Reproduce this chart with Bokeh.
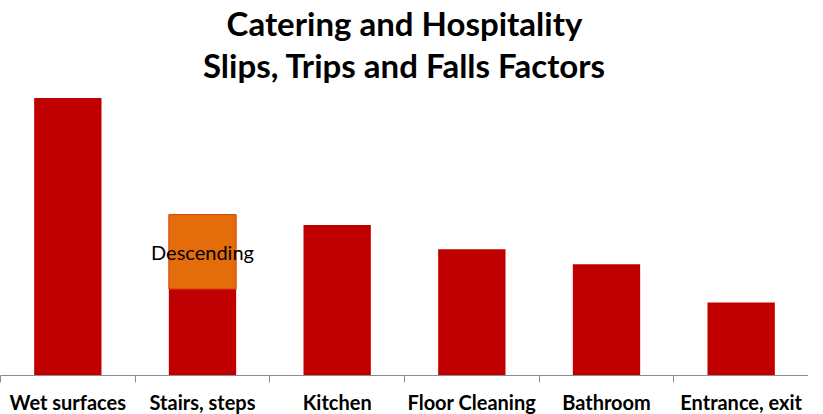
from bokeh.plotting import figure
from bokeh.models import Range1d, FixedTicker, Title, ColumnDataSource, CDSView, BooleanFilter
from bokeh.core.properties import value
from bokeh.embed import file_html
from bokeh.resources import INLINE

categories = ["Wet surfaces", "Stairs, steps", "Kitchen", "Floor Cleaning", "Bathroom", "Entrance, exit"]
base_values = [36.9, 11.5, 20.0, 16.8, 14.8, 9.7]
descending_values = [0, 9.9, 0, 0, 0, 0]
segment_label = "Descending"
title_lines = ["Catering and Hospitality", "Slips, Trips and Falls Factors"]

RED = "#C00000"
ORANGE = "#E46C0A"
FONT = "Lato"

n = len(categories)
centers = [i + 0.5 for i in range(n)]
bounds = [float(i) for i in range(n + 1)]

p = figure(width=808, height=416, output_backend="svg", toolbar_location=None,
           x_range=Range1d(0, n), y_range=Range1d(0, 38.7),
           min_border_left=0, min_border_right=0, min_border_top=0, min_border_bottom=0)
p.title = None
p.outline_line_color = None
p.grid.grid_line_color = None
p.yaxis.visible = False
p.background_fill_color = "white"

src = ColumnDataSource(dict(x=centers, base=base_values,
                            top=[b + d for b, d in zip(base_values, descending_values)],
                            desc=descending_values))
p.vbar(x="x", width=0.5, bottom=0, top="base", source=src, fill_color=RED, line_color=None)
view = CDSView(filter=BooleanFilter([d > 0 for d in descending_values]))
p.vbar(x="x", width=0.5, bottom="base", top="top", source=src, view=view, fill_color=ORANGE,
       line_color="#D8410A", line_width=1)

idx = descending_values.index(max(descending_values))
p.text(x=[centers[idx]], y=[base_values[idx] + descending_values[idx] / 2], text=[segment_label],
       text_align="center", text_baseline="middle", text_font=value(FONT),
       text_font_size="20px", text_color="black")

ax = p.xaxis[0]
ax.ticker = FixedTicker(ticks=centers, minor_ticks=bounds)
ax.major_label_overrides = {c: lab for c, lab in zip(centers, categories)}
ax.major_tick_line_color = None
ax.major_tick_out = 0
ax.major_tick_in = 0
ax.minor_tick_line_color = "#8C8C8C"
ax.minor_tick_out = 7
ax.minor_tick_in = 0
ax.axis_line_color = "#8C8C8C"
ax.axis_line_width = 1
ax.axis_label_standoff = 0
ax.major_label_text_font = FONT
ax.major_label_text_font_style = "bold"
ax.major_label_text_font_size = "20px"
ax.major_label_text_color = "black"
ax.major_label_standoff = 7

for line in reversed(title_lines):
    p.add_layout(Title(text=line, align="center", text_font=FONT, text_font_style="bold",
                       text_font_size="33px", text_color="black", standoff=0), "above")

open("out.html", "w").write(file_html(p, INLINE))
